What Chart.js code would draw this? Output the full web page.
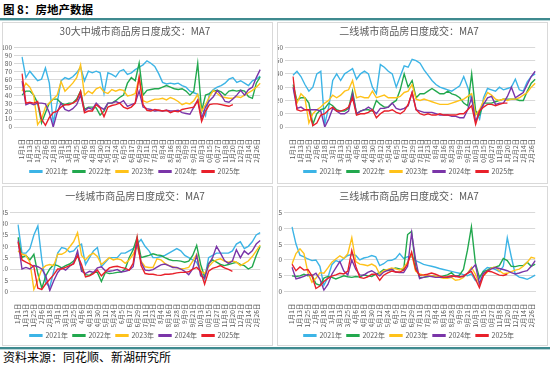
<!DOCTYPE html>
<html>
<head>
<meta charset="utf-8">
<script src="https://cdn.jsdelivr.net/npm/chart.js@4.4.0/dist/chart.umd.min.js"></script>
<style>
body{margin:0;width:550px;height:366px;background:#fff;position:relative;overflow:hidden;font-family:"Noto Sans CJK SC",sans-serif}
#head{position:absolute;left:3px;top:1px;font-size:11.5px;font-weight:bold;color:#000;line-height:16px}
.rule{position:absolute;left:0;width:550px;height:2px;background:#3f8a8f}
.rule2{position:absolute;left:0;width:550px;height:1px;background:#b9d5d7}
.panel{position:absolute;border:1px solid #d9d9d9;box-sizing:border-box;background:#fff}
.panel canvas{position:absolute;left:0;top:0}
#foot{position:absolute;left:3px;top:349px;font-size:12px;color:#000;line-height:16px}
</style>
</head>
<body>
<div id="head">图 8：房地产数据</div>
<div class="rule" style="top:18px"></div>
<div class="rule2" style="top:20px"></div>

<div class="rule" style="top:347px"></div>
<div class="rule2" style="top:349px"></div>
<div id="foot">资料来源：同花顺、新湖研究所</div>

<div class="panel" style="left:2px;top:22px;width:271px;height:162px"><canvas id="c30" width="269" height="162"></canvas></div>
<div class="panel" style="left:277px;top:22px;width:271px;height:162px"><canvas id="c2" width="269" height="162"></canvas></div>
<div class="panel" style="left:2px;top:186px;width:271px;height:160px"><canvas id="c1" width="269" height="162"></canvas></div>
<div class="panel" style="left:277px;top:186px;width:271px;height:160px"><canvas id="c3" width="269" height="162"></canvas></div>

<script>
// x categories: every 6th day of the year (leap-year calendar), last one 12/31
const days = ['1月1日','1月7日','1月13日','1月19日','1月25日','1月31日','2月6日','2月12日','2月18日','2月24日',
	'3月1日','3月7日','3月13日','3月19日','3月25日','3月31日','4月6日','4月12日','4月18日','4月24日',
	'4月30日','5月6日','5月12日','5月18日','5月24日','5月30日','6月5日','6月11日','6月17日','6月23日',
	'6月29日','7月5日','7月11日','7月17日','7月23日','7月29日','8月4日','8月10日','8月16日','8月22日',
	'8月28日','9月3日','9月9日','9月15日','9月21日','9月27日','10月3日','10月9日','10月15日','10月21日',
	'10月27日','11月2日','11月8日','11月14日','11月20日','11月26日','12月2日','12月8日','12月14日','12月20日',
	'12月26日','12月31日'];

const years = ['2021年','2022年','2023年','2024年','2025年'];
const colors = ['#3cb4e6','#22a84e','#ffc21a','#7a35a8','#e8202a'];
const N = null;

// 30大中城市
const t30_2021 = [88,62,70,64,58,60,74,55,5,30, 58,62,60,63,68,75,58,70,68,70, 68,42,68,66,63,70,72,66,68,72, 75,78,83,80,76,67,56,54,55,54, 55,52,50,45,43,41,24,14,42,47, 50,52,55,60,62,56,58,55,52,58, 60,64];
const t30_2022 = [40,45,45,40,30,5,18,30,35,35, 30,28,30,30,35,45,22,25,25,24, 15,20,30,30,33,37,40,55,62,58, 80,40,46,47,48,48,50,52,50,48, 47,48,45,40,45,80,20,40,42,45, 46,44,40,45,46,45,46,45,38,36, 55,63];
const t30_2023 = [45,55,50,40,3,10,25,30,35,40, 57,45,50,55,62,78,40,45,42,48, 50,44,42,47,45,47,46,39,40,42, 62,33,31,33,35,35,36,34,37,35, 32,28,30,29,33,41,20,28,38,46, 42,38,37,36,36,38,37,40,43,46, 50,55];
const t30_2024 = [58,28,30,28,30,30,29,18,0,18, 30,22,20,23,28,40,20,24,22,30, 25,22,30,30,32,30,33,26,28,30, 45,25,23,22,20,21,20,21,20,20, 21,18,17,16,25,34,11,25,33,38, 46,40,32,31,35,40,46,40,47,50, 62,72];
const t30_2025 = [67,30,31,30,32,10,2,12,18,20, 25,28,28,30,33,45,18,20,20,28, 24,13,25,27,28,30,25,23,25,30, 63,28,21,20,22,21,20,21,18,20, 19,22,23,24,25,33,7,20,28,29, 29,28,27,26,28,N,N,N,N,N, N,N];

// 二线城市
const t2_2021 = [39,42,38,32,27,30,40,42,2,15, 35,40,35,40,42,44,36,40,42,40, 30,25,47,45,42,40,30,38,46,45, 51,50,48,43,39,35,32,30,29,28, 27,29,31,38,30,20,12,6,22,29, 28,27,30,28,29,30,36,28,27,34, 38,40];
const t2_2022 = [32,20,22,22,18,2,10,13,14,18, 16,13,12,12,14,27,10,12,13,13, 12,20,17,15,15,18,20,28,40,30, 35,22,25,25,27,29,27,25,25,27, 25,24,22,18,16,40,12,9,18,18, 18,19,20,21,21,21,21,20,20,27, 33,36];
const t2_2023 = [30,18,25,22,3,10,13,15,18,20, 24,22,24,27,28,35,22,23,22,22, 27,22,23,24,22,22,22,23,26,27, 32,21,20,21,20,19,18,17,17,17, 18,19,20,21,23,25,9,13,20,26, 24,21,20,21,20,21,21,22,24,26, 30,33];
const t2_2024 = [30,14,15,13,13,13,13,12,0,6, 14,12,10,10,12,25,10,12,13,15, 13,10,14,14,15,18,14,13,14,16, 26,13,12,11,11,11,10,9,9,9, 8,8,7,7,13,22,4,12,17,22, 23,17,18,18,23,30,22,24,26,32, 38,42];
const t2_2025 = [38,13,12,13,13,1,3,9,10,13, 15,12,12,13,15,22,9,10,10,11, 13,7,10,12,12,13,11,10,12,17, 26,13,10,9,10,9,9,10,9,9, 9,9,10,10,13,16,2,12,15,17, 17,16,17,18,18,N,N,N,N,N, N,N];

// 一线城市
const t1_2021 = [29.6,17,17,19,25,29,14,4,2,9, 17,19.5,19,17.5,18,20,21,12,15,18, 19.5,11,13,15,15,15,17,17,18,19, 21,23,20,18,15,15,15.5,16,17,18, 19,18,16,15,14,13,9,5.5,15,16, 17,17,17,17,18,21,22,19,20,22, 25,26];
const t1_2022 = [24,15,16,14,16.5,8,1.5,7,10,12, 11.5,10.5,11.5,12.2,13.5,16,10,7.5,7.2,8.5, 8.5,4.5,8.5,8,8.2,8.5,8.7,10,15,18.5, 24,15,15.5,16,16.7,16.2,16,15,14.2,13.7, 13.7,13.5,13,13.5,16,20.4,12,6.5,12.5,14, 13,12,11.5,12,12.5,13,12,11.5,10,11, 16,20];
const t1_2023 = [18,16.5,16,13,1,5,10,11.5,12,11.5, 16.5,16.5,17.5,19.7,22,26,16,14,16,17, 15.5,12,13.5,15,14,14.5,14,12.5,14,16.5, 20,13.5,11,10.7,10.7,14.5,14,12.5,11.5,11, 10.5,10,10.3,10.7,13.5,16.5,9,8,11,13, 14,14.5,13.5,13,13.5,13,11.5,12.5,13.5,15.5, 18,20.5];
const t1_2024 = [22.6,10,10.7,10,11.5,11,10,7,0.5,4.8, 8.5,10.5,9.5,11.2,12.5,18,9,8,9,8.5, 10.5,11,9.2,9,9.3,9.8,8.7,9,9.5,11, 22,13,9.5,9.3,9.7,10.8,11.8,12.2,11.5,10.7, 10.7,10,9,7.5,10,16,7,6,12,15, 20,17,13.7,12.5,13.5,18.5,15,18,16.5,18, 21,22.6];
const t1_2025 = [22,14,13,12.2,11,1.5,1,3.5,5.5,7.5, 10,10,10.7,11.5,12.2,16,12,6.5,7,8, 9.5,7,8.8,10.5,11,11.2,10.7,10.3,9.5,12.5, 24,11.5,8,7.7,7.7,7.3,7.2,7.7,7.7,7.9, 8.3,8.5,8.5,8.8,10,10.7,9,3.3,9,10.3, 10.8,11.5,10.5,9.8,9,N,N,N,N,N, N,N];

// 三线城市
const t3_2021 = [20.4,15,11.5,11,10.3,9.8,10,8,2,4.5, 8.5,9.8,9.3,10.5,11.4,11.7,11.4,10,10.6,10.9, 11.4,11,8.2,8.8,9.8,9.9,10.5,12,10.5,11, 11,9.8,9.2,8.6,8.3,8,7.7,7.3,7,6.7, 6.4,6.1,5.8,5.4,5,5.6,3.5,4,6.5,7.6, 7.4,7,6.3,8,17,11,5.5,4.6,4.3,3.9, 4.5,5.2];
const t3_2022 = [5,4.8,5,5.5,5,5.3,2.5,2,4.3,4.8, 4.5,4,4.5,5,4.7,4.5,4.8,4.6,5.3,5, 4.8,5.5,6,7,6.7,7,7.5,7.2,6.8,18, 19,8,4.5,4.5,4.7,5,4.8,4.6,5,5.3, 6,4.8,5.2,7,13,20.4,9,4.5,6.3,6.8, 7.5,7.7,8.2,10.5,9.8,8,7.9,8.2,8.2,9.3, 8,8.7];
const t3_2023 = [8.7,12,13.5,12,6,3,4.2,6,5.8,7.5, 9.3,10.3,11.3,10.5,12,17,9.5,8.7,8.5,8.2, 8.7,8,5.5,6.6,7,7.5,7.2,6.8,7.6,9.3, 12,6.5,5.6,5.2,5,5,4.8,4.5,4.2,4.2, 4.5,3.6,3.8,4.5,5.8,7.7,5.5,2.3,5,6.2, 7.4,7.8,6.6,5.7,5.8,6.3,6.8,7.1,8,9.3, 10.8,10.5];
const t3_2024 = [7.7,4,4.4,4.8,5.4,5,5.8,4,0.5,2.3, 5.5,7.5,9.5,6.5,5.3,10,7,5.3,5.2,6.1, 6.6,5.8,5,6.2,6.7,7.1,6.2,6,6,8, 18.5,10,4.1,4.5,4.9,4.8,4.5,4.5,4.5,4.5, 4.7,5,4.7,4.8,5.7,7.1,8.5,2.5,5.8,6.5, 7.2,7.6,7.3,7,6.6,6,5.6,5.9,6.3,6.6, 8,9.8];
const t3_2025 = [8.7,6.6,7.8,6.8,7,5,1,1.8,3.2,4.2, 4.9,5.3,5.8,5.6,6.5,13,8,4.5,4.2,4.7, 5.5,5.5,3.6,5.2,5.9,6.5,6.2,6.2,6.8,8.8, 12.5,7,5.2,5.3,5.5,5.9,5.5,5,4.6,4.7, 5,4.8,4.6,5,5.8,6.4,4,1.3,5,6.5, 6.3,5.8,5.2,5.1,5.5,N,N,N,N,N, N,N];

const fontFamily = '"Noto Sans CJK SC", sans-serif';
const grey = '#595959';

function makeChart(id, title, series, yMax, yStep, yWidth, padRight, xHeight, titlePad){
	const datasets = series.map(function(values, i){
		return {
			label: years[i],
			data: values,
			borderColor: colors[i],
			backgroundColor: colors[i],
			borderWidth: 1.4,
			pointRadius: 0,
			tension: 0,
			order: 5 - i
		};
	});
	return new Chart(document.getElementById(id), {
		type: 'line',
		data: { labels: days, datasets: datasets },
		options: {
			responsive: false,
			animation: false,
			events: [],
			layout: { padding: { left: 0, right: padRight, top: 0, bottom: 0 } },
			plugins: {
				title: {
					display: true,
					text: title,
					color: grey,
					font: { family: fontFamily, size: 10, weight: 'normal' },
					padding: titlePad
				},
				legend: {
					position: 'bottom',
					labels: {
						color: grey,
						boxWidth: 12,
						boxHeight: 1.8,
						padding: 5,
						font: { family: fontFamily, size: 7 },
						sort: function(a, b){ return a.datasetIndex - b.datasetIndex; }
					}
				},
				tooltip: { enabled: false }
			},
			scales: {
				x: {
					grid: { display: false },
					border: { color: '#d9d9d9' },
					ticks: {
						autoSkip: false,
						minRotation: 90,
						maxRotation: 90,
						padding: 4,
						color: grey,
						font: { family: fontFamily, size: 6.5 },
						callback: function(value, index){
							return index % 2 === 0 ? days[index] : '';
						}
					},
					afterFit: function(scale){ scale.height = xHeight; }
				},
				y: {
					min: 0,
					max: yMax,
					grid: { color: '#d9d9d9' },
					border: { display: false },
					ticks: {
						autoSkip: false,
						stepSize: yStep,
						padding: 2,
						color: grey,
						font: { family: fontFamily, size: 6.5 }
					},
					afterFit: function(scale){ scale.width = yWidth; }
				}
			}
		}
	});
}

const topPad = { top: 2.5, bottom: 9.8 };
const lowPad = { top: 3, bottom: 10.3 };
makeChart('c30', '30大中城市商品房日度成交：MA7', [t30_2021, t30_2022, t30_2023, t30_2024, t30_2025], 100, 10, 19, 5, 36, topPad);
makeChart('c2', '二线城市商品房日度成交：MA7', [t2_2021, t2_2022, t2_2023, t2_2024, t2_2025], 60, 10, 15, 7, 36, topPad);
makeChart('c1', '一线城市商品房日度成交：MA7', [t1_2021, t1_2022, t1_2023, t1_2024, t1_2025], 35, 5, 15, 5, 35.3, lowPad);
makeChart('c3', '三线城市商品房日度成交：MA7', [t3_2021, t3_2022, t3_2023, t3_2024, t3_2025], 25, 5, 14, 7, 35.3, lowPad);
</script>
</body>
</html>
